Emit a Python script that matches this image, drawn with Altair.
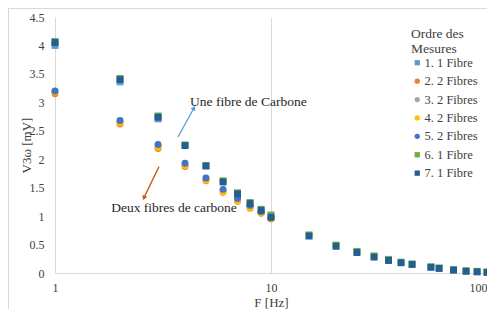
import altair as alt
import pandas as pd

freq_all = [1, 2, 3, 4, 5, 6, 7, 8, 9, 10, 15, 20, 25, 30, 35, 40, 45, 55, 60, 70, 80, 90, 100]
freq_low = [1, 2, 3, 4, 5, 6, 7, 8, 9, 10]
freq_s1 = [1, 2, 3]

series_names = ["1. 1 Fibre", "2. 2 Fibres", "3. 2 Fibres", "4. 2 Fibres",
                "5. 2 Fibres", "6. 1 Fibre", "7. 1 Fibre"]
series_colors = ["#5B9BD5", "#ED7D31", "#A5A5A5", "#FFC000", "#4472C4", "#70AD47", "#255E91"]
series_shapes = ["square", "circle", "circle", "circle", "circle", "square", "square"]

s1 = [4.00, 3.36, 2.71]
s2 = [3.15, 2.62, 2.19, 1.87, 1.62, 1.42, 1.26, 1.14, 1.05, 0.95]
s3 = [3.19, 2.66, 2.23, 1.90, 1.65, 1.45, 1.29, 1.17, 1.07, 0.97]
s4 = [3.18, 2.64, 2.21, 1.89, 1.63, 1.43, 1.27, 1.15, 1.06, 0.96]
s5 = [3.20, 2.68, 2.26, 1.93, 1.67, 1.47, 1.31, 1.19, 1.08, 0.97]
s6 = [4.07, 3.42, 2.76, 2.25, 1.89, 1.62, 1.41, 1.24, 1.12, 1.02, 0.67, 0.49, 0.38,
      0.30, 0.24, 0.19, 0.16, 0.11, 0.09, 0.06, 0.04, 0.03, 0.02]
s7 = [4.05, 3.40, 2.74, 2.24, 1.88, 1.60, 1.39, 1.22, 1.10, 0.98, 0.65, 0.47, 0.36,
      0.28, 0.22, 0.18, 0.15, 0.10, 0.08, 0.05, 0.03, 0.02, 0.01]

x_ticks = [1, 10, 100]
y_ticks = [0, 0.5, 1, 1.5, 2, 2.5, 3, 3.5, 4, 4.5]

series_values = [(freq_s1, s1), (freq_low, s2), (freq_low, s3), (freq_low, s4),
                 (freq_low, s5), (freq_all, s6), (freq_all, s7)]

rows = []
for i, (name, (fs, vs)) in enumerate(zip(series_names, series_values)):
    for f, v in zip(fs, vs):
        rows.append({"series": name, "f": f, "v": v, "k": i})
df = pd.DataFrame(rows)

ann_text = ["Une fibre de Carbone", "Deux fibres de carbone"]
ann_f = [4.22, 1.82]
ann_v = [3.01, 1.15]
ann_df = pd.DataFrame({"t": ann_text, "f": ann_f, "v": ann_v})

arrow_f0 = [3.71, 3.03]
arrow_v0 = [2.39, 1.87]
arrow_f1 = [4.40, 2.58]
arrow_v1 = [2.90, 1.32]
arrow_col = ["#5B9BD5", "#C55A11"]
arrow_ang = [29, 206]
arrow_df = pd.DataFrame({"f0": arrow_f0, "v0": arrow_v0, "f1": arrow_f1, "v1": arrow_v1,
                         "c": arrow_col, "a": arrow_ang})

FONT = "Liberation Serif"
TXT = "#404040"
GRID = "#d9d9d9"

xscale = alt.Scale(type="log", domain=[1, 100], nice=False)
yscale = alt.Scale(domain=[0, 4.5], nice=False)

leg = alt.Legend(title=["Ordre des", "Mesures"], orient="none", legendX=356, legendY=10,
                 titleLineHeight=15, titlePadding=1, symbolSize=28, rowPadding=5.4,
                 labelOffset=1, padding=0, symbolStrokeWidth=0)

points = alt.Chart(df).mark_point(filled=True, size=48, opacity=1).encode(
    x=alt.X("f:Q", scale=xscale,
            axis=alt.Axis(values=x_ticks, format="d", title="F [Hz]", grid=True,
                          labelPadding=9, titlePadding=3,
                          labelAlign={"condition": {"test": "datum.value >= 100", "value": "right"},
                                      "value": "center"})),
    y=alt.Y("v:Q", scale=yscale,
            axis=alt.Axis(values=y_ticks, format="~g", title="V3ω [mV]", grid=False,
                          labelPadding=11, titleX=-25, titleBaseline="alphabetic")),
    color=alt.Color("series:N", scale=alt.Scale(domain=series_names, range=series_colors), legend=leg),
    shape=alt.Shape("series:N", scale=alt.Scale(domain=series_names, range=series_shapes), legend=leg),
    order=alt.Order("k:Q"),
)

rules = alt.Chart(arrow_df).mark_rule(strokeWidth=1.3).encode(
    x=alt.X("f0:Q", scale=xscale, axis=None), y=alt.Y("v0:Q", scale=yscale, axis=None),
    x2="f1:Q", y2="v1:Q",
    color=alt.Color("c:N", scale=None),
)
heads = alt.Chart(arrow_df).mark_point(shape="triangle-up", filled=True, size=28, opacity=1).encode(
    x=alt.X("f1:Q", scale=xscale, axis=None), y=alt.Y("v1:Q", scale=yscale, axis=None),
    color=alt.Color("c:N", scale=None), angle=alt.Angle("a:Q", scale=None),
)
texts = alt.Chart(ann_df).mark_text(align="left", baseline="middle", font=FONT, fontSize=13.5,
                                    color="#262626").encode(
    x=alt.X("f:Q", scale=xscale, axis=None), y=alt.Y("v:Q", scale=yscale, axis=None), text="t:N",
)

border = alt.Chart(ann_df).mark_rect(fillOpacity=0, stroke=GRID, strokeWidth=1).encode(
    x=alt.value(-46.5), x2=alt.value(470), y=alt.value(-8.5), y2=alt.value(320),
)

chart = alt.layer(points, rules, heads, texts, border).resolve_axis(
    x="independent", y="independent"
).properties(
    width=432, height=256,
    autosize=alt.AutoSizeParams(type="none"),
    padding={"left": 47, "top": 9, "right": 0, "bottom": 36},
    background="white",
).configure_view(stroke=None).configure_axis(
    labelFont=FONT, labelFontSize=12, labelColor=TXT, labelOverlap=False,
    titleFont=FONT, titleFontSize=13, titleFontWeight="normal", titleColor=TXT,
    ticks=False, domainColor=GRID, gridColor=GRID,
).configure_legend(
    labelFont=FONT, labelFontSize=12.5, labelColor=TXT,
    titleFont=FONT, titleFontSize=13.5, titleFontWeight="normal", titleColor=TXT,
)

chart.save("out.html", embed_options={"renderer": "svg", "actions": False})
